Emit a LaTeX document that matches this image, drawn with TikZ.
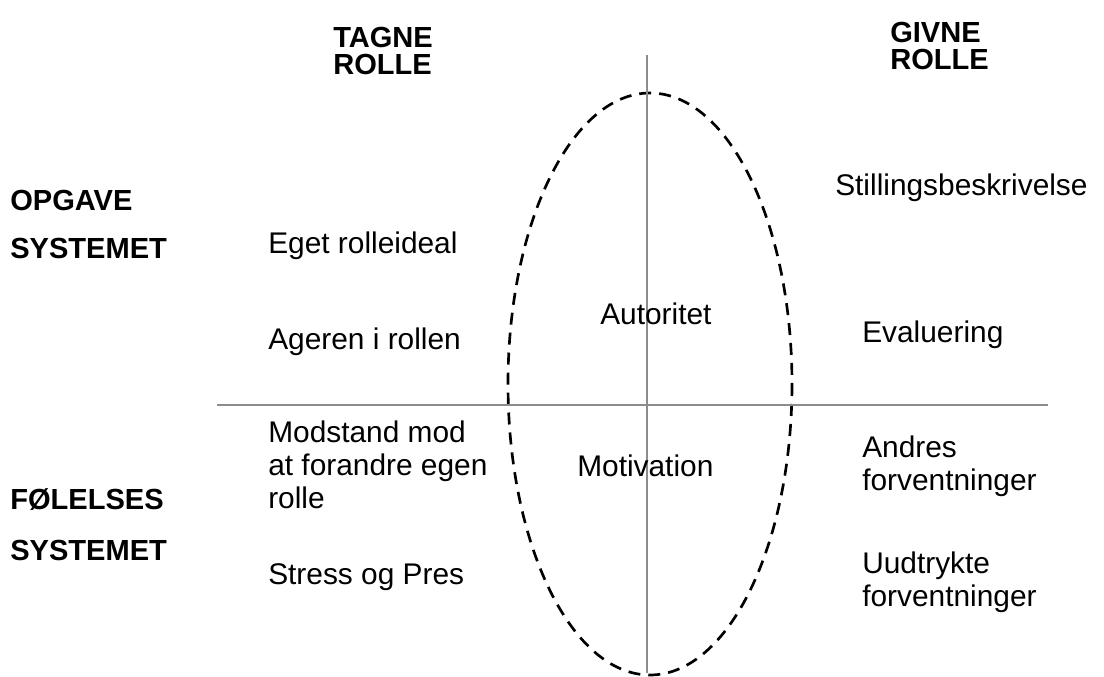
\documentclass[tikz,border=0pt]{standalone}
\usepackage{fontspec}
\setmainfont{Liberation Sans}
\begin{document}
\begin{tikzpicture}[x=0.75pt,y=-0.75pt,
  axis/.style={draw=black!45, line width=2.2pt},
  oval/.style={draw=black, line width=2pt, dash pattern=on 9pt off 6pt},
  hd/.style={font=\fontsize{21.8}{20.5}\selectfont\bfseries, anchor=west, align=left, inner sep=0pt},
  lb/.style={font=\fontsize{22.4}{24.75}\selectfont, anchor=west, align=left, inner sep=0pt}]
\useasboundingbox (0,0) rectangle (1104,677);
\draw[oval] (650,384) ellipse [x radius=142, y radius=291];
\coordinate (vt) at (647,55);
\coordinate (vb) at (647,673);
\coordinate (hl) at (217,405);
\coordinate (hr) at (1048,405);
\draw[axis] (vt) -- (vb);
\draw[axis] (hl) -- (hr);
\node[hd] (tagne) at (333,51) {TAGNE\\ROLLE};
\node[hd] (givne) at (890,46) {GIVNE\\ROLLE};
\node[hd] (opg1) at (10,200) {OPGAVE};
\node[hd] (opg2) at (10,248) {SYSTEMET};
\node[hd] (fol1) at (10,500) {FØLELSES};
\node[hd] (fol2) at (10,550) {SYSTEMET};
\node[lb] (eget) at (268,246) {Eget rolleideal};
\node[lb] (ager) at (268,342) {Ageren i rollen};
\node[lb] (mod) at (268,465) {Modstand mod\\at forandre egen\\rolle};
\node[lb] (stress) at (268,577) {Stress og Pres};
\node[lb] (aut) at (600,314) {Autoritet};
\node[lb] (mot) at (577,466) {Motivation};
\node[lb] (still) at (835,188) {Stillingsbeskrivelse};
\node[lb] (eval) at (862,335) {Evaluering};
\node[lb] (andres) at (862,466) {Andres\\forventninger};
\node[lb] (uud) at (862,582) {Uudtrykte\\forventninger};
\end{tikzpicture}
\end{document}
